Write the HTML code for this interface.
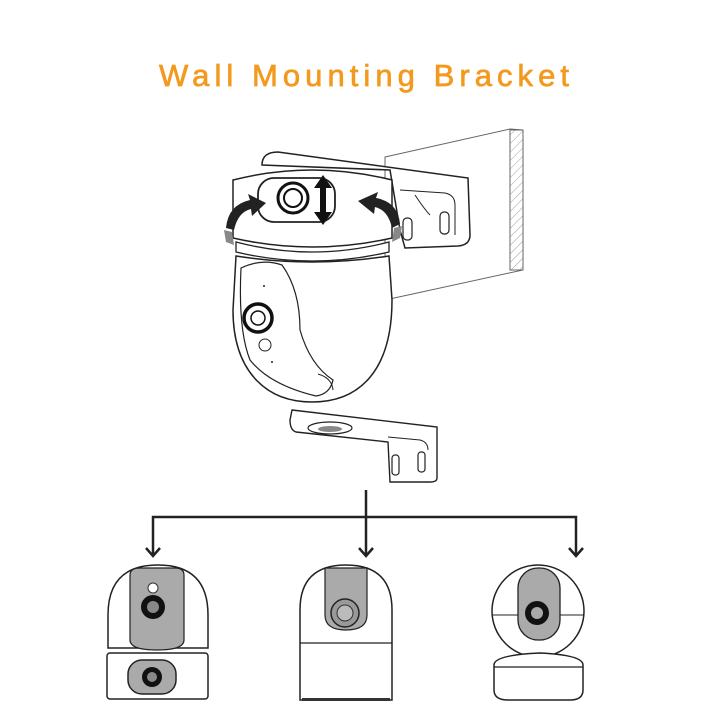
<!DOCTYPE html>
<html><head><meta charset="utf-8"><style>html,body{margin:0;padding:0;background:#fff}svg{display:block}</style></head>
<body>
<svg width="720" height="720" viewBox="0 0 720 720" xmlns="http://www.w3.org/2000/svg">
<defs>
<pattern id="hatch" width="6" height="6" patternUnits="userSpaceOnUse" patternTransform="rotate(45)"><line x1="0" y1="0" x2="0" y2="6" stroke="#888" stroke-width="0.8"/></pattern>
</defs>
<text x="364" y="86" text-anchor="middle" font-family="Liberation Sans, sans-serif" font-size="31" fill="#f39a1e" stroke="#f39a1e" stroke-width="0.7" textLength="410" lengthAdjust="spacing">Wall Mounting Bracket</text>

<!-- wall -->
<polygon points="385,157 510,129 523,130 523,270 385,300" fill="#fff" stroke="#666" stroke-width="1"/>
<rect x="510" y="130" width="13" height="140" fill="url(#hatch)" stroke="#666" stroke-width="1"/>
<!-- upper bracket -->
<path d="M262,165 Q262,152 278,152 L468,178 L470,235 Q470,245 458,246 L405,248 L400,230 L390,170 Z" fill="#fff" stroke="#222" stroke-width="1.5"/>
<path d="M400,190 L445,193 Q455,195 455,205 L455,235" fill="none" stroke="#222" stroke-width="1"/>
<path d="M415,195 Q425,210 430,215" fill="none" stroke="#222" stroke-width="1"/>
<rect x="403" y="218" width="9" height="22" rx="4" fill="#fff" stroke="#222" stroke-width="1.2"/>
<rect x="440" y="212" width="9" height="22" rx="4" fill="#fff" stroke="#222" stroke-width="1.2"/>

<!-- camera top cylinder -->
<path d="M233,180 Q312,160 392,180 L392,238 Q312,256 233,238 Z" fill="#fff" stroke="#222" stroke-width="1.5"/>
<path d="M236,242 Q312,262 389,242 L389,252 Q312,270 236,252 Z" fill="#fff" stroke="#222" stroke-width="1.3"/>
<rect x="258" y="178" width="77" height="44" rx="16" fill="#fff" stroke="#222" stroke-width="1.8"/>
<circle cx="293" cy="198" r="15" fill="#fff" stroke="#111" stroke-width="3"/>
<circle cx="293" cy="198" r="9" fill="#fff" stroke="#111" stroke-width="2"/>
<!-- up-down arrow -->
<path d="M323,175 L332,188 L326,188 L326,212 L332,212 L323,225 L314,212 L320,212 L320,188 L314,188 Z" fill="#111"/>
<!-- curved arrows -->
<path d="M226,228 Q228,205 250,200 L248,194 L266,203 L252,216 L251,209 Q238,212 234,230 Z" fill="#222"/>
<path d="M224,230 L232,232 L234,245 L226,242 Z" fill="#888"/>
<path d="M400,224 Q398,202 376,198 L378,192 L358,201 L374,214 L375,207 Q388,210 392,228 Z" fill="#222"/>
<path d="M402,226 L394,228 L392,242 L400,238 Z" fill="#888"/>
<!-- dome -->
<path d="M236,256 Q312,268 389,256 L392,300 C392,370 360,402 312,402 C265,402 233,370 233,310 Z" fill="#fff" stroke="#222" stroke-width="1.5"/>
<path d="M241,268 Q262,258 282,265 Q300,290 300,330 Q310,365 333,380 Q330,394 316,396 Q270,385 250,360 Q238,330 241,268 Z" fill="#fff" stroke="#222" stroke-width="1.2"/>
<path d="M318,374 Q332,378 333,390" fill="none" stroke="#222" stroke-width="1"/>
<circle cx="258" cy="318" r="14" fill="#fff" stroke="#111" stroke-width="3.5"/>
<circle cx="258" cy="318" r="7" fill="#fff" stroke="#111" stroke-width="1.5"/>
<circle cx="265" cy="345" r="6" fill="#fff" stroke="#222" stroke-width="1"/>
<circle cx="264" cy="286" r="1" fill="#222"/>
<circle cx="272" cy="362" r="1" fill="#222"/>

<!-- lower bracket -->
<path d="M292,410 L437,427 L437,478 Q437,482 430,482 L390,482 L388,442 L296,432 Q290,430 290,420 Z" fill="#fff" stroke="#222" stroke-width="1.4"/>
<ellipse cx="330" cy="428" rx="22" ry="6" fill="#fff" stroke="#222" stroke-width="1.2"/>
<ellipse cx="330" cy="429" rx="12" ry="3" fill="#888"/>
<path d="M388,437 L420,440 Q428,442 428,450" fill="none" stroke="#222" stroke-width="1"/>
<rect x="392" y="455" width="7" height="20" rx="3" fill="#fff" stroke="#222" stroke-width="1.2"/>
<rect x="418" y="452" width="7" height="20" rx="3" fill="#fff" stroke="#222" stroke-width="1.2"/>

<!-- connectors -->
<g stroke="#222" stroke-width="2.5" fill="none">
<path d="M366,490 L366,556"/>
<path d="M153,556 L153,517 L576,517 L576,556"/>
<path d="M146,548 L153,556 L160,548"/>
<path d="M359,548 L366,556 L373,548"/>
<path d="M569,548 L576,556 L583,548"/>
</g>

<!-- cam 1 -->
<path d="M108,648 L108,615 Q108,565 158,565 Q208,565 208,615 L208,648 Z" fill="#fff" stroke="#222" stroke-width="1.5"/>
<path d="M130,640 L130,575 Q130,568 140,568 L175,568 Q184,568 184,575 L184,640 Q184,650 157,650 Q130,650 130,640 Z" fill="#aaa" stroke="#222" stroke-width="1.2"/>
<circle cx="153" cy="588" r="5" fill="#fff" stroke="#333" stroke-width="1"/>
<circle cx="153" cy="607" r="12" fill="#111"/>
<circle cx="153" cy="607" r="6" fill="#888"/>
<rect x="107" y="653" width="101" height="46" rx="3" fill="#fff" stroke="#222" stroke-width="1.5"/>
<rect x="128" y="660" width="48" height="34" rx="14" fill="#aaa" stroke="#222" stroke-width="1.5"/>
<circle cx="152" cy="677" r="10" fill="#111"/>
<circle cx="152" cy="677" r="5" fill="#888"/>

<!-- cam 2 -->
<path d="M300,700 L300,610 Q300,565 346,565 Q392,565 392,610 L392,700 Z" fill="#fff" stroke="#222" stroke-width="1.5"/>
<line x1="300" y1="643" x2="392" y2="643" stroke="#222" stroke-width="1.2"/>
<path d="M325,568 L367,568 L367,615 Q367,630 346,630 Q325,630 325,615 Z" fill="#aaa" stroke="#222" stroke-width="1.2"/>
<circle cx="345" cy="613" r="14" fill="#999" stroke="#222" stroke-width="1.5"/>
<circle cx="345" cy="613" r="8" fill="#bbb" stroke="#333" stroke-width="1"/>
<rect x="302" y="698" width="88" height="3" fill="#333"/>

<!-- cam 3 -->
<circle cx="538" cy="611" r="46" fill="#fff" stroke="#222" stroke-width="1.5"/>
<line x1="493" y1="615" x2="584" y2="615" stroke="#222" stroke-width="1"/>
<rect x="518" y="568" width="42" height="72" rx="20" fill="#aaa" stroke="#222" stroke-width="1.3"/>
<circle cx="537" cy="613" r="12" fill="#111"/>
<circle cx="537" cy="613" r="6" fill="#aaa"/>
<path d="M494,665 Q494,655 540,653 Q583,655 583,665 L583,690 Q583,700 570,700 L508,700 Q494,700 494,690 Z" fill="#fff" stroke="#222" stroke-width="1.5"/>
<line x1="494" y1="667" x2="583" y2="667" stroke="#222" stroke-width="1.2"/>
</svg>
</body></html>
